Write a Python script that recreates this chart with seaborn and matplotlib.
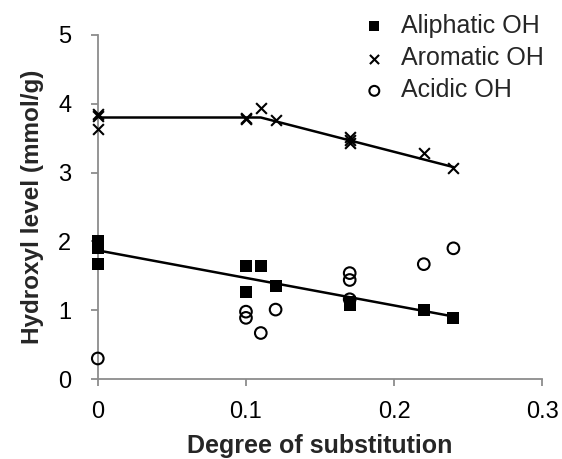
import numpy as np
import pandas as pd
import matplotlib
matplotlib.use("Agg")
import matplotlib.pyplot as plt
import seaborn as sns

# Degree of substitution vs hydroxyl level
aliph_x = [0, 0, 0, 0.10, 0.10, 0.11, 0.12, 0.17, 0.17, 0.22, 0.24]
aliph_y = [2.00, 1.90, 1.67, 1.64, 1.26, 1.65, 1.35, 1.08, 1.12, 1.00, 0.89]

arom_x = [0, 0, 0, 0.10, 0.10, 0.11, 0.12, 0.17, 0.17, 0.17, 0.22, 0.24]
arom_y = [3.85, 3.82, 3.63, 3.80, 3.78, 3.94, 3.76, 3.52, 3.47, 3.43, 3.29, 3.06]

acid_x = [0, 0.10, 0.10, 0.11, 0.12, 0.17, 0.17, 0.17, 0.22, 0.24]
acid_y = [0.30, 0.98, 0.89, 0.67, 1.01, 1.54, 1.44, 1.16, 1.67, 1.90]

# trend lines
aliph_fit_x = [0, 0.24]
aliph_fit_y = [1.87, 0.91]
arom_fit_x = [0, 0.11, 0.24]
arom_fit_y = [3.80, 3.80, 3.08]

sns.set_theme(style="white")
plt.rcParams['font.family'] = ['Liberation Sans', 'DejaVu Sans']

fig, ax = plt.subplots(figsize=(5.62, 4.59), dpi=100)
fig.subplots_adjust(left=0.174, right=0.965, bottom=0.174, top=0.924)

sns.lineplot(x=aliph_fit_x, y=aliph_fit_y, ax=ax, color='black', linewidth=1.8)
sns.lineplot(x=arom_fit_x, y=arom_fit_y, ax=ax, color='black', linewidth=1.8)

sns.scatterplot(x=aliph_x, y=aliph_y, ax=ax, marker='s', color='black',
                s=70, linewidth=0, label='Aliphatic OH', zorder=3, clip_on=False)
sns.scatterplot(x=arom_x, y=arom_y, ax=ax, marker='x', color='black',
                s=60, linewidth=1.5, label='Aromatic OH', zorder=3, clip_on=False)
sns.scatterplot(x=acid_x, y=acid_y, ax=ax, marker='o', facecolor='none',
                edgecolor='black', s=70, linewidth=1.5, label='Acidic OH',
                zorder=3, clip_on=False)

ax.set_xlim(0, 0.3)
ax.set_ylim(0, 5)
ax.set_xticks([0, 0.1, 0.2, 0.3])
ax.set_xticklabels(['0', '0.1', '0.2', '0.3'])
ax.set_yticks([0, 1, 2, 3, 4, 5])
ax.set_xlabel('Degree of substitution', fontsize=18, fontweight='bold', labelpad=8)
ax.set_ylabel('Hydroxyl level (mmol/g)', fontsize=17.5, fontweight='bold', labelpad=10)

for side in ['top', 'right']:
    ax.spines[side].set_visible(False)
for side in ['left', 'bottom']:
    ax.spines[side].set_color('#8c8c8c')
    ax.spines[side].set_linewidth(1.3)
ax.tick_params(axis='both', which='major', direction='out', length=5, width=1.3,
               color='#8c8c8c', labelsize=17, labelcolor='black', left=True, bottom=True)
ax.tick_params(axis='x', pad=11)
ax.tick_params(axis='y', pad=14)
for a in ax.get_xticklabels() + ax.get_yticklabels():
    a.set_clip_on(False)

leg = ax.legend(loc='upper right', bbox_to_anchor=(1.025, 1.09), frameon=False,
                fontsize=18, handlelength=1.0, handletextpad=0.55, labelspacing=0.33,
                borderaxespad=0, markerscale=0.85)

plt.savefig('out.png', dpi=100)
